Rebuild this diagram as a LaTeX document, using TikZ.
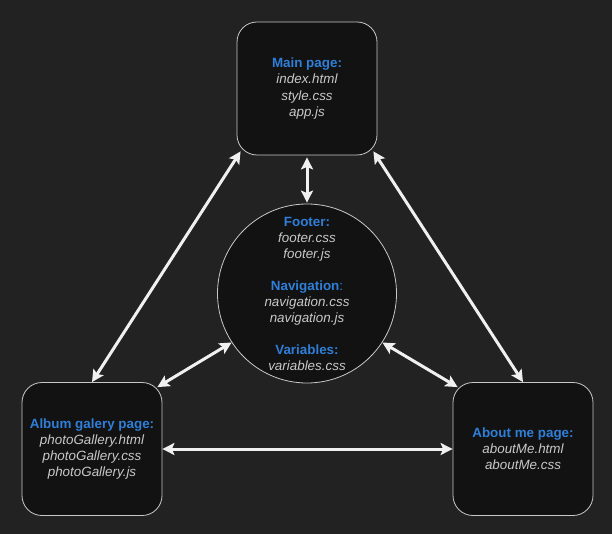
\documentclass[tikz,border=0pt]{standalone}
\usepackage{fontspec}
\setmainfont{Liberation Sans}
\usetikzlibrary{arrows.meta}
\definecolor{bg}{HTML}{222222}
\definecolor{boxfill}{HTML}{121212}
\definecolor{boxline}{HTML}{C8C8C8}
\definecolor{ttl}{HTML}{2F7ED8}
\definecolor{fl}{HTML}{C8C8C8}
\definecolor{arr}{HTML}{F0F0F0}
\tikzset{
  page/.style={draw=boxline, line width=0.8pt, fill=boxfill, rounded corners=20pt,
    minimum width=140pt, minimum height=133pt, align=center, inner sep=0pt,
    font=\fontsize{13.4}{16.2}\selectfont},
  hub/.style={circle, draw=boxline, line width=0.8pt, fill=boxfill, minimum size=179pt,
    align=center, inner sep=0pt, font=\fontsize{13.4}{16}\selectfont},
  conn/.style={draw=arr, line width=3pt,
    {Stealth[length=12pt,width=12pt,inset=2.5pt]}-{Stealth[length=12pt,width=12pt,inset=2.5pt]}},
}
\newcommand{\ttlx}[1]{{\color{ttl}\bfseries #1}}
\newcommand{\flx}[1]{{\color{fl}\itshape #1}}
\begin{document}
\begin{tikzpicture}[x=1pt,y=-1pt]
\fill[bg] (0,0) rectangle (612,534);
\useasboundingbox (0,0) rectangle (612,534);
\node[page] (main) at (307,88.5) {\ttlx{Main page:}\\ \flx{index.html}\\ \flx{style.css}\\ \flx{app.js}};
\node[page] (album) at (92,449) {\ttlx{Album galery page:}\\ \flx{photoGallery.html}\\ \flx{photoGallery.css}\\ \flx{photoGallery.js}};
\node[page] (about) at (523,449) {\ttlx{About me page:}\\ \flx{aboutMe.html}\\ \flx{aboutMe.css}};
\node[hub] (hub) at (307,293.5) {\ttlx{Footer:}\\ \flx{footer.css}\\ \flx{footer.js}\\[16pt]
  {\color{ttl}\bfseries Navigation}{\color{ttl}:}\\ \flx{navigation.css}\\ \flx{navigation.js}\\[16pt]
  \ttlx{Variables:}\\ \flx{variables.css}};
\draw[conn] ([shift={(4,-4)}]main.south west) -- (album.north);
\draw[conn] ([shift={(-4,-4)}]main.south east) -- (about.north);
\draw[conn, shorten <=2pt, shorten >=1pt] (main.south) -- (hub.north);
\draw[conn] (hub.213) -- ([shift={(-5,5)}]album.north east);
\draw[conn] (hub.327) -- ([shift={(5,5)}]about.north west);
\draw[conn] (album.east) -- (about.west);
\end{tikzpicture}
\end{document}
